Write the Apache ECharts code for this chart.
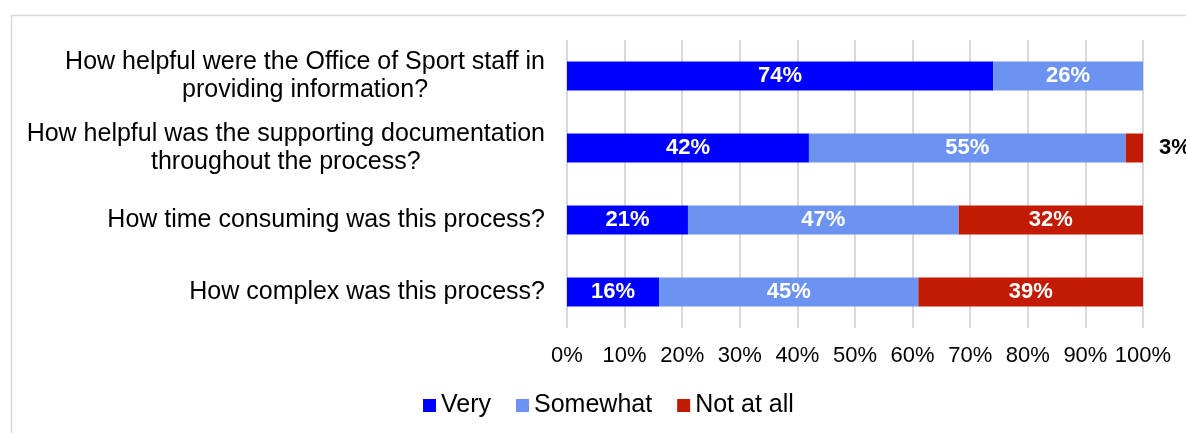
<!DOCTYPE html>
<html>
<head>
<meta charset="utf-8">
<script src="https://cdn.jsdelivr.net/npm/echarts@6/dist/echarts.min.js"></script>
<style>
  html, body { margin: 0; padding: 0; background: #fff; }
  #chart { width: 1186px; height: 433px; }
</style>
</head>
<body>
<div id="chart"></div>
<script>
// Survey questions (each entry: lines of the wrapped label)
const questions = [
  ['How helpful were the Office of Sport staff in', 'providing information?'],
  ['How helpful was the supporting documentation', 'throughout the process?'],
  ['How time consuming was this process?'],
  ['How complex was this process?']
];
const seriesNames = ['Very', 'Somewhat', 'Not at all'];
// Percent of respondents per answer
const veryValues = [74, 42, 21, 16];
const somewhatValues = [26, 55, 47, 45];
const notAtAllValues = [0, 3, 32, 39];
const tickLabels = ['0%', '10%', '20%', '30%', '40%', '50%', '60%', '70%', '80%', '90%', '100%'];

const colors = ['#0000FF', '#6D93F2', '#C21A03'];
const FONT = '"Liberation Sans", Arial, sans-serif';

const chart = echarts.init(document.getElementById('chart'), null, { renderer: 'canvas' });

function segment(name, values, color) {
  return {
    name: name,
    type: 'bar',
    stack: 'total',
    barWidth: 29,
    itemStyle: { color: color },
    data: values.map(function (v) {
      const item = { value: v };
      // small slice: label sits outside the bar end
      if (v > 0 && v < 10) {
        item.label = {
          show: true, position: 'right', distance: 16,
          color: '#000', fontWeight: 'bold', fontSize: 22, fontFamily: FONT,
          formatter: '{c}%'
        };
      }
      return item;
    }),
    label: {
      show: true,
      position: 'inside',
      color: '#fff',
      fontWeight: 'bold',
      fontSize: 22,
      fontFamily: FONT,
      formatter: function (p) { return p.value > 0 ? p.value + '%' : ''; }
    }
  };
}

chart.setOption({
  animation: false,
  backgroundColor: '#fff',
  color: colors,
  graphic: [{
    type: 'rect',
    left: 9, top: 13,
    shape: { width: 1200, height: 440 },
    style: { fill: 'none', stroke: '#d9d9d9', lineWidth: 1.5 },
    silent: true
  }],
  grid: { left: 567, right: 43, top: 40, bottom: 105, containLabel: false },
  legend: {
    left: 423, top: 393, padding: 0,
    icon: 'rect', itemWidth: 13, itemHeight: 13, itemGap: 25,
    textStyle: { fontSize: 25, color: '#000', fontFamily: FONT },
    data: seriesNames
  },
  xAxis: {
    type: 'value', min: 0, max: 100, interval: 10,
    axisLine: { show: false },
    axisTick: { show: false },
    splitLine: { show: true, lineStyle: { color: '#d9d9d9', width: 2 } },
    axisLabel: {
      margin: 17, fontSize: 22, color: '#000', fontFamily: FONT,
      formatter: function (v) { return tickLabels[Math.round(v / 10)]; }
    }
  },
  yAxis: {
    type: 'category', inverse: true,
    data: questions.map(function (q) { return q.join('\n'); }),
    axisLine: { show: false },
    axisTick: { show: false },
    axisLabel: {
      margin: 22, color: '#000', fontSize: 25, fontFamily: FONT,
      formatter: function (v) {
        return v.split('\n').map(function (l) { return '{c|' + l + '}'; }).join('\n');
      },
      rich: { c: { align: 'center', fontSize: 25, lineHeight: 28, fontFamily: FONT, color: '#000' } }
    }
  },
  series: [
    segment(seriesNames[0], veryValues, colors[0]),
    segment(seriesNames[1], somewhatValues, colors[1]),
    segment(seriesNames[2], notAtAllValues, colors[2])
  ]
});
</script>
</body>
</html>
